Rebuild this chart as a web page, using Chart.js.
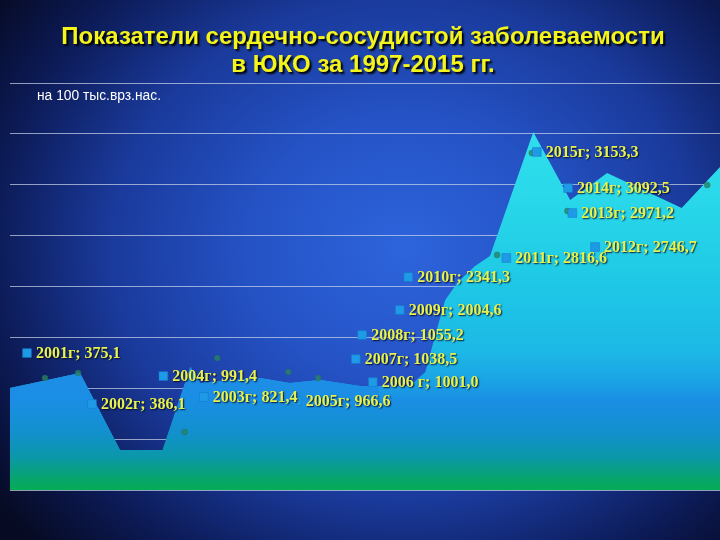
<!DOCTYPE html>
<html>
<head>
<meta charset="utf-8">
<script src="https://cdn.jsdelivr.net/npm/chart.js@4.4.1/dist/chart.umd.min.js"></script>
<style>
  html, body { margin: 0; padding: 0; }
  body {
    width: 720px; height: 540px; overflow: hidden; position: relative;
    background: radial-gradient(ellipse 70% 80% at 56% 46%, #2d64dc 0%, #2553c6 30%, #1a3a9c 58%, #0c1a55 82%, #060a22 100%);
  }
  #wrap { position: absolute; left: 0; top: 0; width: 720px; height: 540px; }
  #title {
    position: absolute; left: 0; top: 22px; width: 726px; text-align: center;
    font: bold 24px 'Liberation Sans', Arial, sans-serif; line-height: 28px;
    color: #f4f41a; text-shadow: 2px 2px 2px #000;
  }
  #sub {
    position: absolute; left: 37px; top: 88px;
    font: 13.8px 'Liberation Sans', Arial, sans-serif; color: #ffffff;
  }
</style>
</head>
<body>
<div id="wrap"><canvas id="c" width="720" height="540"></canvas></div>
<div id="title">Показатели сердечно-сосудистой заболеваемости<br>в ЮКО за 1997-2015 гг.</div>
<div id="sub">на 100 тыс.врз.нас.</div>
<script>
// Area outline as it appears (x: relative position 0–100, y: value on 0–4000 scale)
const areaX = [0, 9.86, 15.5, 21.5, 25.4, 26.8, 31.0, 35.2, 39.4, 43.7, 49.3, 56.3, 58.5, 59.9, 61.3, 63.1, 65.5, 67.6, 73.7, 78.9, 84.1, 94.6, 100];
const areaY = [1002, 1150, 393, 393, 1209, 1052, 1081, 1101, 1052, 1081, 1022, 1022, 1160, 1523, 1867, 2044, 2202, 2300, 3518, 2850, 3116, 2771, 3174];

// Left (blue-tinted) part of the area
const leftX = [0, 9.86, 15.5, 21.5, 25.4, 26.8, 31.0, 35.2, 39.4, 43.7, 49.3, 56.0, 55.0, 53.6, 52.0];
const leftY = [1002, 1150, 393, 393, 1209, 1052, 1081, 1101, 1052, 1081, 1022, 1022, 688, 344, 0];

// Data labels
const years = ['2001г', '2002г', '2003г', '2004г', '2005г', '2006 г', '2007г', '2008г', '2009г', '2010г', '2011г', '2012г', '2013г', '2014г', '2015г'];
const values = [375.1, 386.1, 821.4, 991.4, 966.6, 1001.0, 1038.5, 1055.2, 2004.6, 2341.3, 2816.6, 2746.7, 2971.2, 3092.5, 3153.3];
// Where each label's marker sits in the picture (same units as the axes)
const labelX = [2.39, 11.55, 27.3, 21.6, 40.4, 51.1, 48.7, 49.6, 54.9, 56.1, 69.9, 82.4, 79.2, 78.6, 74.2];
const labelY = [1346, 845, 914, 1120, 875, 1061, 1287, 1523, 1769, 2093, 2280, 2388, 2722, 2968, 3322];

// Faint data dots
const dotX = [4.93, 9.58, 24.6, 29.2, 39.2, 43.4, 68.6, 73.5, 78.5, 98.2];
const dotY = [1101, 1150, 570, 1297, 1160, 1101, 2310, 3312, 2742, 2998];

const yTicks = [0, 500, 1000, 1500, 2000, 2500, 3000, 3500, 4000];

function pts(xs, ys) { return xs.map((x, i) => ({ x: x, y: ys[i] })); }

function grad(stops) {
  return function (ctx) {
    const chart = ctx.chart;
    const a = chart.chartArea;
    if (!a) return 'rgba(0,0,0,0)';
    const g = chart.ctx.createLinearGradient(0, a.top, 0, a.bottom);
    stops.forEach(s => g.addColorStop(s[0], s[1]));
    return g;
  };
}

const lowerStops = [[0.78, '#1a8ee4'], [0.86, '#1290cc'], [0.92, '#0b98a8'], [0.97, '#07a470'], [1, '#05ac55']];

const labelPlugin = {
  id: 'labelText',
  afterDatasetsDraw(chart) {
    const meta = chart.getDatasetMeta(0);
    const c = chart.ctx;
    c.save();
    c.font = "bold 16px 'Liberation Serif', 'Times New Roman', serif";
    c.textBaseline = 'middle';
    c.textAlign = 'left';
    c.shadowColor = 'rgba(0,0,30,0.85)';
    c.shadowOffsetX = 1; c.shadowOffsetY = 1; c.shadowBlur = 1.5;
    c.fillStyle = '#e8f24c';
    meta.data.forEach((el, i) => {
      const txt = years[i] + '; ' + values[i].toFixed(1).replace('.', ',');
      c.fillText(txt, el.x + 9, el.y + 1);
    });
    c.restore();
  }
};

new Chart(document.getElementById('c'), {
  type: 'line',
  data: {
    datasets: [
      {
        label: 'labels',
        data: pts(labelX, labelY),
        showLine: false,
        pointStyle: 'rect',
        pointRadius: 6.2,
        pointBackgroundColor: '#1f9ae6',
        pointBorderColor: '#1478c8',
        pointBorderWidth: 0.5,
        clip: false,
        order: 0
      },
      {
        label: 'dots',
        data: pts(dotX, dotY),
        showLine: false,
        pointRadius: 3,
        pointBackgroundColor: 'rgba(40,130,100,0.8)',
        pointBorderColor: 'rgba(30,100,80,0.6)',
        pointBorderWidth: 0.5,
        clip: false,
        order: 1
      },
      {
        label: 'left',
        data: pts(leftX, leftY),
        borderWidth: 0,
        pointRadius: 0,
        tension: 0,
        fill: 'origin',
        backgroundColor: grad([[0, '#1e8eea'], [0.70, '#1e8ee6']].concat(lowerStops)),
        order: 2
      },
      {
        label: 'area',
        data: pts(areaX, areaY),
        borderWidth: 0,
        pointRadius: 0,
        tension: 0,
        fill: 'origin',
        backgroundColor: grad([[0, '#34e2ee'], [0.25, '#2bdaea'], [0.45, '#20cce6'], [0.66, '#1cb8e6'], [0.73, '#1aa4e4']].concat(lowerStops)),
        order: 3
      }
    ]
  },
  options: {
    responsive: false,
    animation: false,
    events: [],
    layout: { autoPadding: false, padding: { top: 83, left: 10, right: 0, bottom: 50 } },
    plugins: { legend: { display: false }, tooltip: { enabled: false }, title: { display: false } },
    scales: {
      x: { type: 'linear', min: 0, max: 100, display: false },
      y: {
        type: 'linear', min: 0, max: 4000,
        afterBuildTicks: s => { s.ticks = yTicks.map(v => ({ value: v })); },
        afterFit: s => { s.width = 0; },
        ticks: { display: false },
        border: { display: false },
        grid: { color: 'rgba(205,215,235,0.7)', lineWidth: 1, drawTicks: false }
      }
    }
  },
  plugins: [labelPlugin]
});
</script>
</body>
</html>
